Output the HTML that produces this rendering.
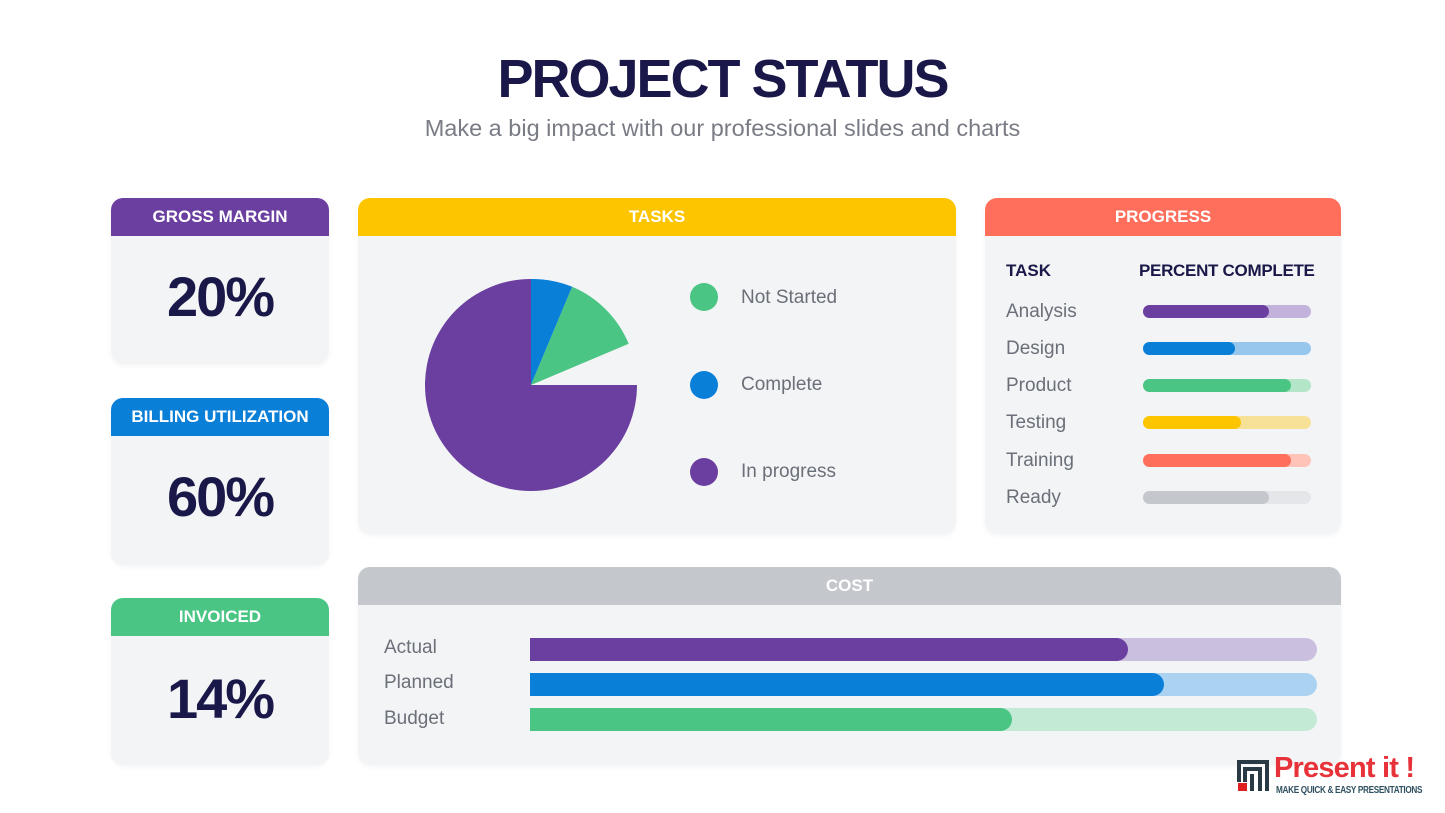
<!DOCTYPE html>
<html><head><meta charset="utf-8"><style>
*{margin:0;padding:0;box-sizing:border-box}
body{width:1445px;height:813px;background:#fff;font-family:"Liberation Sans",sans-serif;position:relative;overflow:hidden}
.a{position:absolute}
.card{position:absolute;background:#f2f4f6;border-radius:12px;overflow:hidden;box-shadow:0 2px 6px rgba(0,0,0,0.04)}
.hd{height:38px;color:#fff;font-weight:bold;font-size:17px;text-align:center;line-height:38px}
.big{font-size:56px;font-weight:bold;color:#1a1848;text-align:center;letter-spacing:-2px}
.lbl{position:absolute;color:#6b6f78;font-size:19px}
.bar{position:absolute;border-radius:8px}
</style></head><body>
<div class="a" style="left:0;width:1445px;top:48px;text-align:center;font-size:54px;font-weight:bold;color:#1a1848;letter-spacing:-2px">PROJECT STATUS</div>
<div class="a" style="left:0;width:1445px;top:115px;text-align:center;font-size:23.5px;color:#7a7c85">Make a big impact with our professional slides and charts</div>

<div class="card" style="left:111px;top:198px;width:218px;height:166px"><div class="hd" style="background:#6b3fa0">GROSS MARGIN</div><div class="big" style="margin-top:28px">20%</div></div>
<div class="card" style="left:111px;top:398px;width:218px;height:167px"><div class="hd" style="background:#0a7fd8">BILLING UTILIZATION</div><div class="big" style="margin-top:28px">60%</div></div>
<div class="card" style="left:111px;top:598px;width:218px;height:167px"><div class="hd" style="background:#4ac584">INVOICED</div><div class="big" style="margin-top:30px">14%</div></div>

<div class="card" style="left:358px;top:198px;width:598px;height:336px"><div class="hd" style="background:#fdc500">TASKS</div></div>
<svg class="a" style="left:0;top:0" width="1445" height="813">
<path d="M531 385 L637 385 A106 106 0 1 1 531 279 Z" fill="#6b3fa0"/>
<path d="M531 385 L531 279 A106 106 0 0 1 572.2 286.8 Z" fill="#0a7fd8"/>
<path d="M531 385 L572.2 286.8 A106 106 0 0 1 628.7 343.8 Z" fill="#4ac584"/>
<circle cx="704" cy="297" r="14" fill="#4ac584"/>
<circle cx="704" cy="385" r="14" fill="#0a7fd8"/>
<circle cx="704" cy="472" r="14" fill="#6b3fa0"/>
</svg>
<div class="lbl" style="left:741px;top:287px">Not Started</div>
<div class="lbl" style="left:741px;top:374px">Complete</div>
<div class="lbl" style="left:741px;top:461px">In progress</div>

<div class="card" style="left:985px;top:198px;width:356px;height:336px"><div class="hd" style="background:#ff6f5b">PROGRESS</div></div>
<div class="a" style="left:1006px;top:261px;font-size:17px;font-weight:bold;color:#1a1848">TASK</div>
<div class="a" style="left:1139px;top:261px;font-size:17px;font-weight:bold;color:#1a1848;letter-spacing:-0.3px">PERCENT COMPLETE</div>

<div class="lbl" style="left:1006px;top:301px">Analysis</div>
<div class="bar" style="left:1143px;top:305px;width:168px;height:13px;background:#c3b2dc"></div><div class="bar" style="left:1143px;top:305px;width:126px;height:13px;background:#6b3fa0"></div>
<div class="lbl" style="left:1006px;top:338px">Design</div>
<div class="bar" style="left:1143px;top:342px;width:168px;height:13px;background:#98c7ee"></div><div class="bar" style="left:1143px;top:342px;width:92px;height:13px;background:#0a7fd8"></div>
<div class="lbl" style="left:1006px;top:375px">Product</div>
<div class="bar" style="left:1143px;top:379px;width:168px;height:13px;background:#b3e6c9"></div><div class="bar" style="left:1143px;top:379px;width:148px;height:13px;background:#4ac584"></div>
<div class="lbl" style="left:1006px;top:412px">Testing</div>
<div class="bar" style="left:1143px;top:416px;width:168px;height:13px;background:#f7e196"></div><div class="bar" style="left:1143px;top:416px;width:98px;height:13px;background:#fdc500"></div>
<div class="lbl" style="left:1006px;top:450px">Training</div>
<div class="bar" style="left:1143px;top:454px;width:168px;height:13px;background:#ffc3b8"></div><div class="bar" style="left:1143px;top:454px;width:148px;height:13px;background:#ff6f5b"></div>
<div class="lbl" style="left:1006px;top:487px">Ready</div>
<div class="bar" style="left:1143px;top:491px;width:168px;height:13px;background:#e4e6e9"></div><div class="bar" style="left:1143px;top:491px;width:126px;height:13px;background:#c4c7cb"></div>

<div class="card" style="left:358px;top:567px;width:983px;height:198px"><div class="hd" style="background:#c4c7cb">COST</div></div>
<div class="lbl" style="left:384px;top:637px">Actual</div>
<div class="bar" style="left:530px;top:638px;width:787px;height:23px;border-radius:12px;background:#cbbfe0"></div><div class="bar" style="left:530px;top:638px;width:598px;height:23px;border-radius:0 12px 12px 0;background:#6b3fa0"></div>
<div class="lbl" style="left:384px;top:672px">Planned</div>
<div class="bar" style="left:530px;top:673px;width:787px;height:23px;border-radius:12px;background:#acd2f1"></div><div class="bar" style="left:530px;top:673px;width:634px;height:23px;border-radius:0 12px 12px 0;background:#0a7fd8"></div>
<div class="lbl" style="left:384px;top:708px">Budget</div>
<div class="bar" style="left:530px;top:708px;width:787px;height:23px;border-radius:12px;background:#c3ead5"></div><div class="bar" style="left:530px;top:708px;width:482px;height:23px;border-radius:0 12px 12px 0;background:#4ac584"></div>

<svg class="a" style="left:1237px;top:760px" width="34" height="32">
<rect x="0" y="0" width="32" height="4" fill="#2a3a44"/>
<rect x="0" y="0" width="4" height="22" fill="#2a3a44"/>
<rect x="28" y="0" width="4" height="31" fill="#2a3a44"/>
<rect x="6" y="7" width="19" height="4" fill="#2a3a44"/>
<rect x="21" y="7" width="4" height="24" fill="#2a3a44"/>
<rect x="6" y="7" width="4" height="15" fill="#2a3a44"/>
<rect x="13" y="14" width="4" height="17" fill="#2a3a44"/>
<rect x="1" y="23" width="9" height="8" fill="#e02020"/>
</svg>
<div class="a" style="left:1274px;top:752px;font-size:29px;font-weight:bold;color:#e8323a;letter-spacing:-0.8px;white-space:nowrap">Present it !</div>
<div class="a" style="left:1276px;top:785px;font-size:10px;font-weight:bold;color:#2f5060;letter-spacing:-0.4px;white-space:nowrap;transform:scaleX(0.82);transform-origin:left">MAKE QUICK &amp; EASY PRESENTATIONS</div>
</body></html>
